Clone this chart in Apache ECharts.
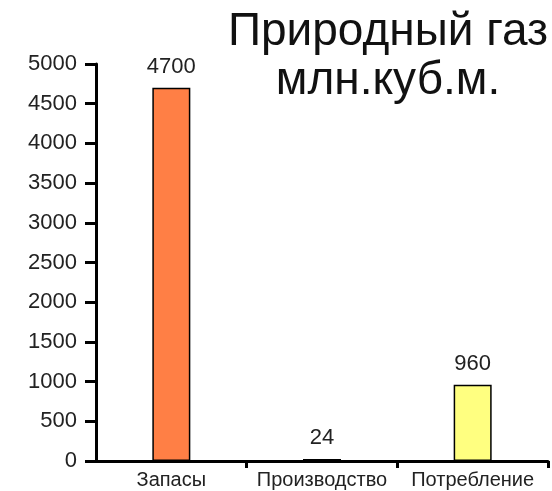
<!DOCTYPE html>
<html>
<head>
<meta charset="utf-8">
<script src="https://cdn.jsdelivr.net/npm/echarts@6/dist/echarts.min.js"></script>
<style>
  html, body { margin: 0; padding: 0; background: #fff; }
  #chart { width: 552px; height: 491px; }
</style>
</head>
<body>
<div id="chart"></div>
<script>
// Natural gas: reserves, production, consumption (mln cubic metres)
const categories = ['Запасы', 'Производство', 'Потребление'];
const values = [4700, 24, 960];
const barColors = ['#FF7F45', '#4E6540', '#FFFF80'];
const titleText = 'Природный газ\nмлн.куб.м.';

const FONT = 'Liberation Sans, Arial, sans-serif';
const chart = echarts.init(document.getElementById('chart'), null, { renderer: 'canvas' });

chart.setOption({
  backgroundColor: '#ffffff',
  animation: false,
  title: {
    text: titleText,
    left: 383,
    top: 3,
    textAlign: 'center',
    textStyle: {
      fontFamily: FONT,
      fontSize: 46,
      fontWeight: 'normal',
      color: '#111',
      lineHeight: 49
    }
  },
  grid: { left: 96, right: 4, top: 64, bottom: 30, containLabel: false },
  xAxis: {
    type: 'category',
    data: categories,
    axisLine: { lineStyle: { color: '#000', width: 3 } },
    axisTick: {
      show: true,
      length: 7,
      lineStyle: { color: '#000', width: 3 },
      interval: function (i) { return i > 0 && i < categories.length; }
    },
    axisLabel: { interval: 0, fontFamily: FONT, fontSize: 20, color: '#222', margin: 9 }
  },
  yAxis: {
    type: 'value',
    min: 0,
    max: 5000,
    interval: 500,
    splitLine: { show: false },
    axisLine: { show: true, lineStyle: { color: '#000', width: 3 } },
    axisTick: { show: true, length: 11, lineStyle: { color: '#000', width: 3 } },
    axisLabel: {
      fontFamily: FONT,
      fontSize: 22,
      color: '#222',
      margin: 19,
      formatter: function (v) { return String(v); }
    }
  },
  series: [{
    type: 'bar',
    barWidth: 38,
    data: values.map(function (v, i) {
      return { value: v, itemStyle: { color: barColors[i] } };
    }),
    itemStyle: { borderColor: '#000', borderWidth: 1.5 },
    label: {
      show: true,
      position: 'top',
      distance: 10,
      fontFamily: FONT,
      fontSize: 22,
      color: '#222'
    }
  }]
});
</script>
</body>
</html>
